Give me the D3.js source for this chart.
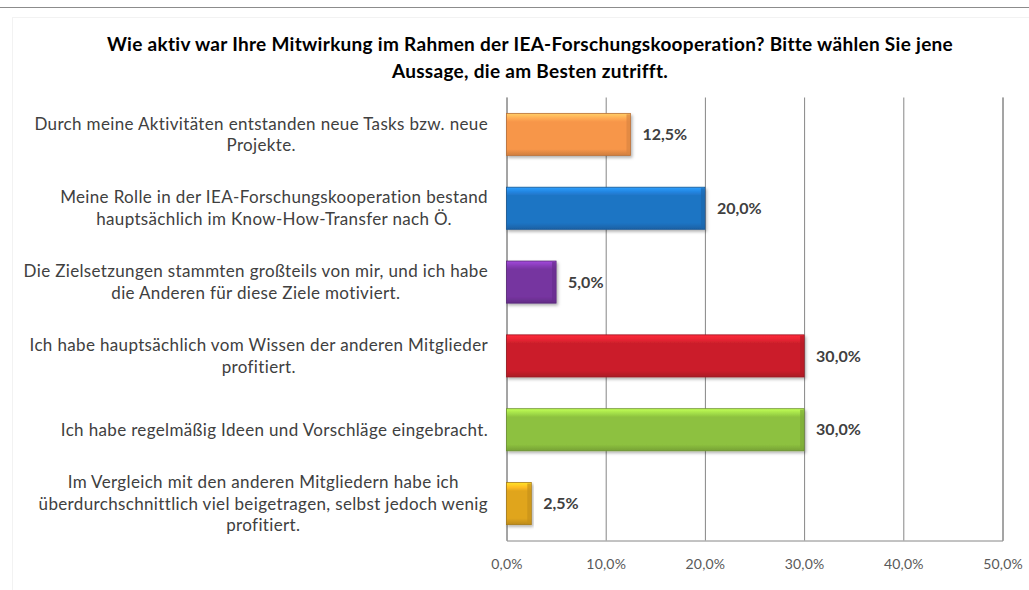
<!DOCTYPE html>
<html>
<head>
<meta charset="utf-8">
<script src="https://cdn.jsdelivr.net/npm/d3@7/dist/d3.min.js"></script>
<style>
  body { margin: 0; background: #fff; }
  svg { display: block; font-family: Lato, "Open Sans", sans-serif; }
</style>
</head>
<body>
<div class="chart"></div>
<script>
var svgWidth = 1029;
var svgHeight = 590;

// chart data
var titleLines = [
  "Wie aktiv war Ihre Mitwirkung im Rahmen der IEA-Forschungskooperation? Bitte wählen Sie jene",
  "Aussage, die am Besten zutrifft."
];
var categoryLines = [
  ["Durch meine Aktivitäten entstanden neue Tasks bzw. neue", "Projekte."],
  ["Meine Rolle in der IEA-Forschungskooperation bestand", "hauptsächlich im Know-How-Transfer nach Ö."],
  ["Die Zielsetzungen stammten großteils von mir, und ich habe", "die Anderen für diese Ziele motiviert."],
  ["Ich habe hauptsächlich vom Wissen der anderen Mitglieder", "profitiert."],
  ["Ich habe regelmäßig Ideen und Vorschläge eingebracht."],
  ["Im Vergleich mit den anderen Mitgliedern habe ich", "überdurchschnittlich viel beigetragen, selbst jedoch wenig", "profitiert."]
];
var values = [12.5, 20.0, 5.0, 30.0, 30.0, 2.5];
var barColors = ["#F7964A", "#1F74C4", "#7634A0", "#CB1F2B", "#8DC13F", "#E0A51E"];
var xTicks = [0, 10, 20, 30, 40, 50];

var plot = { left: 506.5, right: 1002.5, top: 97.5, bottom: 540.5 };
var labelRight = 488;

var svg = d3.select(".chart")
  .append("svg")
  .attr("width", svgWidth)
  .attr("height", svgHeight);

var defs = svg.append("defs");

// top rule and faint chart frame
svg.append("line")
  .attr("x1", 0).attr("x2", svgWidth)
  .attr("y1", 7.5).attr("y2", 7.5)
  .attr("stroke", "#8c8c8c").attr("stroke-width", 1);

svg.append("rect")
  .attr("x", 12.5).attr("y", 17.5)
  .attr("width", svgWidth - 12).attr("height", svgHeight - 12)
  .attr("fill", "none").attr("stroke", "#f2f2f2");

// title
svg.append("text")
  .attr("x", 530)
  .attr("y", 51)
  .attr("text-anchor", "middle")
  .attr("font-weight", "bold")
  .attr("font-size", 19)
  .attr("letter-spacing", 0.3)
  .attr("fill", "#000")
  .selectAll("tspan")
  .data(titleLines)
  .enter()
  .append("tspan")
  .attr("x", 530)
  .attr("dy", function(d, i) { return i === 0 ? 0 : 27; })
  .text(function(d) { return d; });

var x = d3.scaleLinear().domain([0, 50]).range([plot.left, plot.right]);
var y = d3.scaleBand()
  .domain(d3.range(values.length))
  .range([plot.top, plot.bottom])
  .paddingInner(0.43)
  .paddingOuter(0.215);

var fmt = function(v) { return d3.format(".1f")(v).replace(".", ",") + "%"; };

// gridlines
var grid = svg.append("g")
  .attr("transform", "translate(0," + plot.bottom + ")")
  .call(d3.axisBottom(x).tickValues(xTicks).tickSize(-(plot.bottom - plot.top)).tickFormat(""));
grid.select(".domain").attr("stroke", "#868686");
grid.selectAll(".tick line").attr("stroke", "#868686");

// tick labels
var xAxis = svg.append("g")
  .attr("transform", "translate(0," + plot.bottom + ")")
  .call(d3.axisBottom(x).tickValues(xTicks).tickSize(0).tickPadding(19).tickFormat(fmt));
xAxis.select(".domain").remove();
xAxis.selectAll("text")
  .attr("font-family", "Lato, sans-serif")
  .attr("font-size", 14)
  .attr("letter-spacing", 0.2)
  .attr("fill", "#595959");

// bar gradients
function shade(c, k) {
  var col = d3.rgb(c);
  return k > 0 ? col.brighter(k).formatHex() : col.darker(-k).formatHex();
}

barColors.forEach(function(c, i) {
  var g = defs.append("linearGradient")
    .attr("id", "bar" + i)
    .attr("x1", 0).attr("y1", 0).attr("x2", 0).attr("y2", 1);
  g.append("stop").attr("offset", "0%").attr("stop-color", shade(c, 0.9));
  g.append("stop").attr("offset", "12%").attr("stop-color", shade(c, 0.35));
  g.append("stop").attr("offset", "20%").attr("stop-color", c);
  g.append("stop").attr("offset", "85%").attr("stop-color", c);
  g.append("stop").attr("offset", "100%").attr("stop-color", shade(c, -0.5));
});

var shadow = defs.append("filter").attr("id", "shadow")
  .attr("x", "-5%").attr("y", "-20%").attr("width", "115%").attr("height", "150%");
shadow.append("feDropShadow")
  .attr("dx", 1.5).attr("dy", 2).attr("stdDeviation", 1.5)
  .attr("flood-color", "#000").attr("flood-opacity", 0.3);

var bars = svg.append("g");

bars.selectAll("rect")
  .data(values)
  .enter()
  .append("rect")
  .attr("x", x(0))
  .attr("y", function(d, i) { return y(i); })
  .attr("width", function(d) { return x(d) - x(0); })
  .attr("height", y.bandwidth())
  .attr("fill", function(d, i) { return "url(#bar" + i + ")"; })
  .attr("stroke", function(d, i) { return shade(barColors[i], -0.8); })
  .attr("stroke-width", 0.8)
  .attr("filter", "url(#shadow)");

// side bevels
bars.selectAll(".bevel")
  .data(values)
  .enter()
  .append("rect")
  .attr("class", "bevel")
  .attr("x", function(d) { return x(d) - 4; })
  .attr("y", function(d, i) { return y(i) + 1; })
  .attr("width", 3.5)
  .attr("height", y.bandwidth() - 2)
  .attr("fill", function(d, i) { return shade(barColors[i], -0.35); })
  .attr("opacity", 0.7);

// value labels
svg.append("g")
  .selectAll("text")
  .data(values)
  .enter()
  .append("text")
  .attr("x", function(d) { return x(d) + 12; })
  .attr("y", function(d, i) { return y(i) + y.bandwidth() / 2; })
  .attr("dy", "0.35em")
  .attr("font-weight", "bold")
  .attr("font-size", 16)
  .attr("fill", "#404040")
  .text(fmt);

// category labels, centred lines, widest line flush to the right edge
var lineHeight = 21.5;
var labels = svg.append("g")
  .selectAll("text")
  .data(categoryLines)
  .enter()
  .append("text")
  .attr("font-size", 17)
  .attr("letter-spacing", 0.35)
  .attr("fill", "#404040")
  .attr("text-anchor", "middle");

labels.each(function(lines, i) {
  var t = d3.select(this);
  var cy = y(i) + y.bandwidth() / 2 - (lines.length - 1) * lineHeight / 2;
  lines.forEach(function(line, j) {
    t.append("tspan")
      .attr("y", cy + j * lineHeight)
      .attr("dy", "0.35em")
      .text(line);
  });
  var maxW = 0;
  t.selectAll("tspan").each(function() {
    maxW = Math.max(maxW, this.getComputedTextLength());
  });
  t.selectAll("tspan").attr("x", labelRight - maxW / 2);
});
</script>
</body>
</html>
